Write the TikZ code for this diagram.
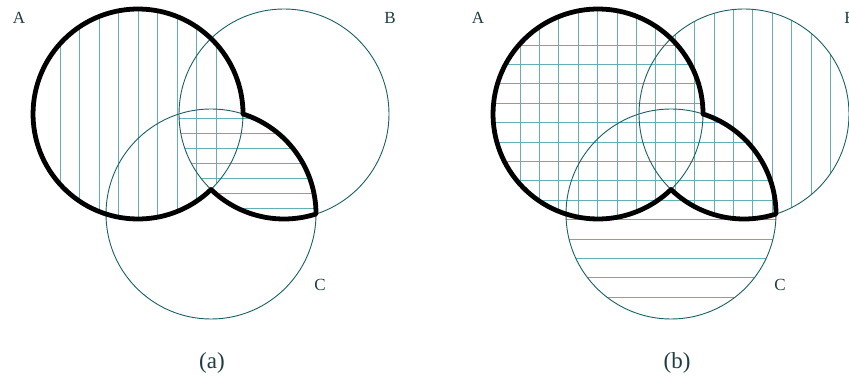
\documentclass[tikz,border=0pt]{standalone}
\usepackage{fontspec}
\setmainfont{Liberation Serif}
\definecolor{hatch}{RGB}{100,175,180}
\definecolor{rim}{RGB}{25,95,100}
\definecolor{ink}{RGB}{30,60,65}
% thin circles A, B, C and the thick outline of A u (B n C)
\newcommand{\vennrim}{%
	\draw[thinline] (138,114) circle (105);
	\draw[thinline] (284,114) circle (105);
	\draw[thinline] (211,214) circle (105);
	\draw[thickline] (243,114) arc[start angle=-72.26, end angle=0, radius=105]
		arc[start angle=72.26, end angle=134.04, radius=105]
		arc[start angle=45.96, end angle=360, radius=105] -- cycle;
}
\begin{document}
\begin{tikzpicture}[x=1pt, y=-1pt,
	thinline/.style={rim, line width=0.9pt},
	thickline/.style={black, line width=4.8pt, line join=round},
	hatchline/.style={hatch, line width=0.9pt},
	setname/.style={ink, font=\fontsize{17}{20}\selectfont},
	caption/.style={ink, font=\fontsize{23}{26}\selectfont}]
	\useasboundingbox (0,0) rectangle (849,382);
	% (a)
	\begin{scope}
		\clip (138,114) circle (105);
		\foreach \k in {0,...,8}
			\draw[hatchline] (60+19.5*\k,0) -- (60+19.5*\k,230);
	\end{scope}
	\begin{scope}
		\clip (284,114) circle (105);
		\clip (211,214) circle (105);
		\foreach \k in {0,...,6}
			\draw[hatchline] (160,118+15*\k) -- (330,118+15*\k);
	\end{scope}
	\vennrim
	\node[setname] (a-A) at (19,18) {A};
	\node[setname] (a-B) at (390,18) {B};
	\node[setname] (a-C) at (320,285) {C};
	\node[caption] (a-cap) at (212,363) {(a)};
	% (b)
	\begin{scope}[shift={(460,0)}]
		\begin{scope}
			\clip (138,114) circle (105);
			\foreach \k in {0,...,16}
				\draw[hatchline] (60+19.4*\k,0) -- (60+19.4*\k,330);
			\foreach \k in {0,...,13}
				\draw[hatchline] (20,45+19.4*\k) -- (400,45+19.4*\k);
		\end{scope}
		\begin{scope}
			\clip (284,114) circle (105);
			\foreach \k in {0,...,16}
				\draw[hatchline] (60+19.4*\k,0) -- (60+19.4*\k,330);
		\end{scope}
		\begin{scope}
			\clip (211,214) circle (105);
			\foreach \k in {0,...,13}
				\draw[hatchline] (20,45+19.4*\k) -- (400,45+19.4*\k);
		\end{scope}
		\vennrim
	\end{scope}
	\node[setname] (b-A) at (478,18) {A};
	\node[setname] (b-B) at (850,18) {B};
	\node[setname] (b-C) at (780,285) {C};
	\node[caption] (b-cap) at (677,363) {(b)};
\end{tikzpicture}
\end{document}
